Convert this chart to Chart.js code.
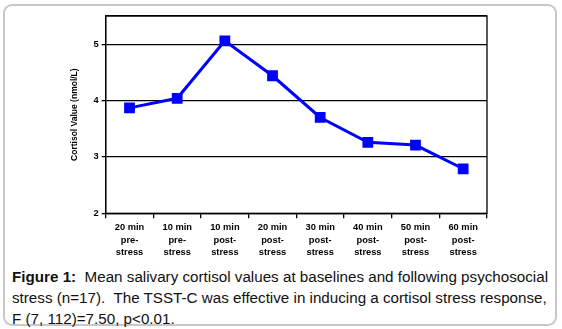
<!DOCTYPE html>
<html>
<head>
<meta charset="utf-8">
<script src="https://cdn.jsdelivr.net/npm/chart.js@4"></script>
<style>
  body { margin: 0; background: #fff; }
  #wrap { position: relative; width: 562px; height: 329px; overflow: hidden; }
  #frame { position: absolute; left: 3px; top: 4px; width: 550px; height: 318px;
           border: 2px solid #c8c8c8; border-radius: 9px; }
  #chartBox { position: absolute; left: 0; top: 0; width: 562px; height: 265px; }
  #caption { position: absolute; left: 12px; top: 266px; width: 545px;
             font-family: "Liberation Sans", Arial, sans-serif; font-size: 15.2px;
             line-height: 21px; color: #111; }
</style>
</head>
<body>
<div id="wrap">
  <div id="frame"></div>
  <div id="chartBox"><canvas id="myChart" width="562" height="265"></canvas></div>
  <div id="caption"><b>Figure 1:</b>&nbsp; Mean salivary cortisol values at baselines and following psychosocial stress (n=17).&nbsp; The TSST-C was effective in inducing a cortisol stress response, F (7, 112)=7.50, p&lt;0.01.</div>
</div>
<script>
const timeLabels = [
  ["20 min", "pre-", "stress"],
  ["10 min", "pre-", "stress"],
  ["10 min", "post-", "stress"],
  ["20 min", "post-", "stress"],
  ["30 min", "post-", "stress"],
  ["40 min", "post-", "stress"],
  ["50 min", "post-", "stress"],
  ["60 min", "post-", "stress"]
];
const cortisol = [3.87, 4.04, 5.06, 4.44, 3.70, 3.26, 3.21, 2.79];
const yTicks = [2, 3, 4, 5];

// plot frame (top and right edges)
const frame = {
  id: "frame",
  afterDraw(chart) {
    const a = chart.chartArea, c = chart.ctx;
    c.save();
    c.strokeStyle = "#000";
    c.lineWidth = 1.3;
    c.strokeRect(a.left, a.top, a.right - a.left, a.bottom - a.top);
    c.restore();
  }
};

const tickFont = { family: "'Liberation Sans', Arial, sans-serif", size: 9.3, weight: "bold", lineHeight: 1.36 };

const ctx = document.getElementById("myChart").getContext("2d");
const chart = new Chart(ctx, {
  type: "line",
  data: {
    labels: timeLabels,
    datasets: [{
      data: cortisol,
      borderColor: "#0000ff",
      backgroundColor: "#0000ff",
      borderWidth: 3,
      pointStyle: "rect",
      pointRadius: 5.5,
      pointHoverRadius: 5.5,
      fill: false,
      tension: 0
    }]
  },
  options: {
    responsive: false,
    animation: false,
    layout: { padding: { left: 70, right: 75, top: 16, bottom: 0 } },
    plugins: { legend: { display: false }, tooltip: { enabled: false } },
    scales: {
      x: {
        offset: true,
        grid: { offset: true, drawOnChartArea: false, drawTicks: true, tickLength: 5, color: "#000", lineWidth: 1.3 },
        border: { color: "#000", width: 1.3 },
        ticks: { color: "#000", font: tickFont, maxRotation: 0, autoSkip: false, padding: 3 },
        afterFit(s) { s.height = 51.7; }
      },
      y: {
        min: 2,
        max: 5.5,
        afterBuildTicks(s) { s.ticks = yTicks.map(v => ({ value: v })).concat([{ value: 5.5 }]); },
        grid: {
          color: "#000", lineWidth: 1.3, tickLength: 4,
          tickColor: c => (c.tick && c.tick.value === 5.5 ? "rgba(0,0,0,0)" : "#000")
        },
        border: { color: "#000", width: 1.3 },
        ticks: {
          color: "#000", font: tickFont, padding: 3,
          callback: v => (v === 5.5 ? "" : v)
        },
        title: {
          display: true,
          text: "Cortisol Value (nmol/L)",
          color: "#000",
          font: { family: "'Liberation Sans', Arial, sans-serif", size: 8.5, weight: "bold" },
          padding: 0
        },
        afterFit(s) { s.width = 35.7; }
      }
    }
  },
  plugins: [frame]
});
</script>
</body>
</html>
